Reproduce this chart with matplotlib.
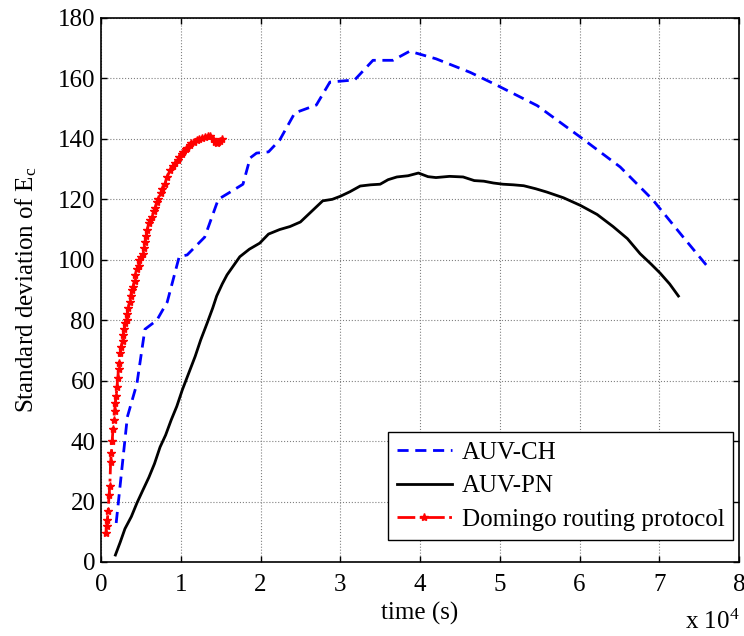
import numpy as np
import matplotlib.pyplot as plt

plt.rcParams['font.family'] = ['Liberation Serif', 'DejaVu Serif']
plt.rcParams['mathtext.fontset'] = 'stix'

# AUV-CH (time in units of 1e4 s)
ch_t = [0.19, 0.33, 0.45, 0.55, 0.70, 0.83, 0.90, 0.98, 1.08, 1.30, 1.47, 1.62, 1.78, 1.87,
        1.95, 2.10, 2.24, 2.43, 2.70, 2.87, 3.18, 3.41, 3.66, 3.87, 4.20, 4.63, 4.96, 5.47,
        6.01, 6.51, 6.92, 7.30, 7.61]
ch_v = [12.9, 48.0, 59.0, 77.0, 80.0, 86.0, 93.0, 101.0, 101.6, 107.5, 120.0, 122.4, 125.0, 133.7,
        135.3, 135.7, 139.6, 148.6, 151.2, 158.8, 159.5, 166.0, 166.0, 169.0, 166.5, 162.0, 157.8, 151.0,
        140.6, 130.7, 119.8, 107.5, 97.6]

# AUV-PN
pn_t = [0.18, 0.24, 0.30, 0.38, 0.45, 0.52, 0.60, 0.67, 0.74, 0.81, 0.88, 0.95, 1.02, 1.10,
        1.18, 1.25, 1.33, 1.40, 1.45, 1.52, 1.58, 1.66, 1.74, 1.86, 1.99, 2.10, 2.24, 2.37,
        2.50, 2.64, 2.78, 2.90, 3.00, 3.12, 3.25, 3.38, 3.50, 3.60, 3.71, 3.85, 3.98, 4.10,
        4.20, 4.37, 4.54, 4.68, 4.80, 4.92, 5.04, 5.17, 5.30, 5.45, 5.59, 5.80, 6.01, 6.22,
        6.42, 6.60, 6.76, 6.90, 7.01, 7.13, 7.24]
pn_v = [2.3, 6.5, 11.0, 15.0, 19.5, 23.5, 28.0, 32.5, 38.0, 42.0, 47.0, 51.5, 57.0, 62.5,
        68.0, 73.5, 79.0, 84.0, 88.0, 92.0, 95.0, 98.0, 101.0, 103.5, 105.5, 108.5, 110.0, 111.0,
        112.5, 116.0, 119.5, 120.0, 121.0, 122.5, 124.4, 124.8, 125.0, 126.5, 127.4, 127.8, 128.7, 127.5,
        127.2, 127.6, 127.4, 126.2, 126.0, 125.4, 125.0, 124.8, 124.5, 123.5, 122.4, 120.5, 118.0, 115.0,
        111.0, 107.0, 102.0, 98.5, 95.6, 92.0, 88.0]

# Domingo routing protocol
dm_t = [0.06, 0.07, 0.08, 0.09, 0.10, 0.11, 0.12, 0.13, 0.14, 0.15, 0.16, 0.17, 0.18, 0.19,
        0.20, 0.21, 0.22, 0.23, 0.24, 0.25, 0.27, 0.28, 0.29, 0.30, 0.32, 0.33, 0.34, 0.36,
        0.37, 0.39, 0.40, 0.42, 0.43, 0.45, 0.47, 0.48, 0.50, 0.52, 0.54, 0.55, 0.57, 0.58,
        0.60, 0.62, 0.64, 0.66, 0.68, 0.70, 0.72, 0.75, 0.77, 0.80, 0.83, 0.87, 0.90, 0.93,
        0.96, 0.98, 1.01, 1.03, 1.06, 1.08, 1.11, 1.13, 1.16, 1.20, 1.23, 1.27, 1.30, 1.34,
        1.37, 1.40, 1.43, 1.45, 1.47, 1.49, 1.52]
dm_v = [9.6, 12.0, 14.0, 17.0, 22.0, 25.0, 33.0, 36.0, 40.0, 44.0, 47.0, 50.0, 52.6, 55.0,
        58.0, 61.0, 64.0, 66.0, 69.0, 71.0, 73.0, 75.0, 77.0, 79.0, 80.0, 82.0, 84.0, 86.0,
        88.0, 90.0, 91.0, 93.0, 95.0, 97.0, 98.0, 100.0, 101.0, 102.0, 104.0, 106.0, 108.0, 110.0,
        112.0, 113.0, 114.0, 116.0, 117.0, 119.0, 120.0, 122.0, 123.5, 125.0, 127.5, 129.7, 131.0, 132.0,
        133.0, 134.0, 135.0, 135.7, 136.5, 137.0, 138.0, 138.5, 139.0, 139.6, 140.0, 140.3, 140.6, 141.0,
        140.8, 140.0, 139.0, 138.7, 139.0, 139.2, 140.0]

fig = plt.figure(figsize=(7.44, 6.36), dpi=100)
ax = fig.add_axes([0.1358, 0.1164, 0.8575, 0.8553])

ax.plot(ch_t, ch_v, color='blue', linestyle=(0, (4, 2.4)), linewidth=2.0, label='AUV-CH')
ax.plot(pn_t, pn_v, color='black', linestyle='-', linewidth=2.0, label='AUV-PN')
ax.plot(dm_t, dm_v, color='red', linestyle='-.', linewidth=2.0, marker='*', markersize=6,
        label='Domingo routing protocol')

ax.set_xlim(0, 8)
ax.set_ylim(0, 180)
ax.set_xticks(range(0, 9))
ax.set_yticks(range(0, 181, 20))
ax.grid(True, color='#808080', linestyle=':', linewidth=0.8)
ax.tick_params(direction='in', top=True, right=True, labelsize=18, length=4, width=1)
ax.tick_params(axis='x', pad=9)
ax.tick_params(axis='y', pad=4)
for s in ax.spines.values():
    s.set_linewidth(1.2)

ax.set_xlabel('time (s)', fontsize=18, labelpad=4)
ax.set_ylabel('Standard deviation of E$_\\mathregular{c}$', fontsize=18, labelpad=14)
fig.text(0.921, 0.003, 'x 10$^\\mathregular{4}$', fontsize=18, ha='left', va='bottom')

leg = ax.legend(loc='lower right', bbox_to_anchor=(0.9906, 0.0404), fontsize=18,
                fancybox=False, edgecolor='black', framealpha=1, borderaxespad=0,
                handlelength=2.2, handletextpad=0.4, labelspacing=0.45, borderpad=0.35)
leg.get_frame().set_linewidth(1.0)

fig.savefig('out.png', dpi=100)
